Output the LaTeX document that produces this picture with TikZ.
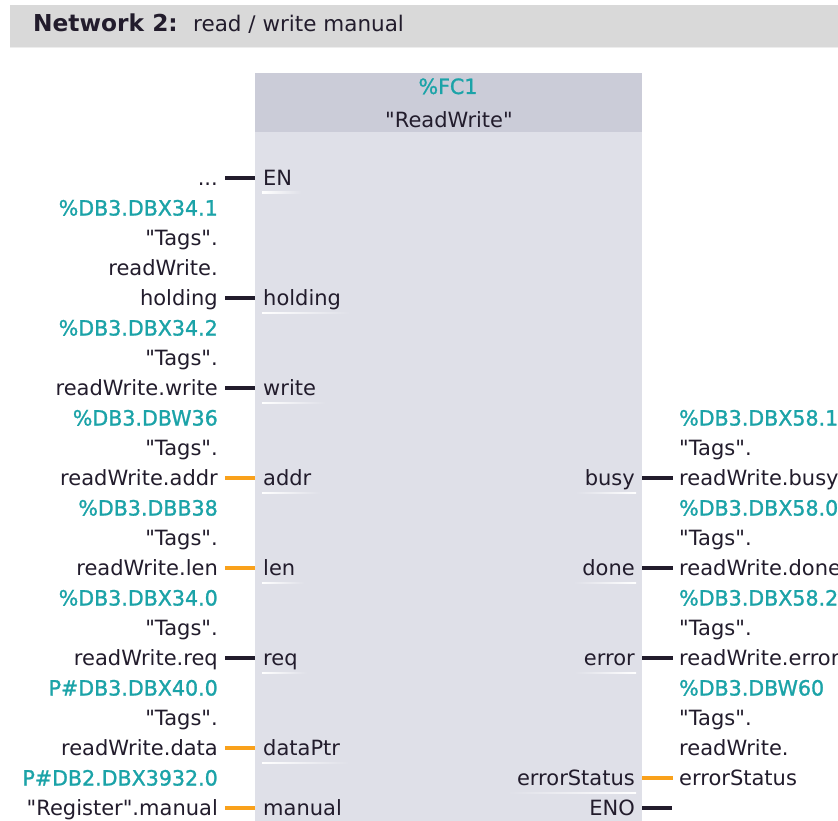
\documentclass[tikz,border=0pt]{standalone}
\usepackage{fontspec}
\setmainfont{DejaVu Sans}[Ligatures=TeXOff]
\newfontfamily\opndfont[FakeStretch=0.98, FakeBold=1.2]{DejaVu Sans}
\usepackage{xcolor}
\definecolor{barGray}{HTML}{D9D9D9}
\definecolor{fcHead}{HTML}{CBCCD8}
\definecolor{fcBody}{HTML}{DFE0E8}
\definecolor{ink}{HTML}{221C2C}
\definecolor{opndTeal}{HTML}{1BA3A8}
\definecolor{wireOrange}{HTML}{F9A11B}
\usepackage{tikz}
\usetikzlibrary{calc}
\newcommand{\lblfont}{\fontsize{21}{30}\selectfont}
\newcommand{\opnd}[1]{{\opndfont\color{opndTeal}#1}}
\newcommand{\tagsL}[1]{\begin{tabular}[b]{@{}r@{}}#1\end{tabular}}
\newcommand{\tagsR}[1]{\begin{tabular}[b]{@{}l@{}}#1\end{tabular}}
\newcommand{\ulineL}[1]{\shade[left color=white, right color=fcBody]
  ($(#1.base west)+(-1,6.5)$) rectangle ($(#1.base east)+(9,8.2)$);}
\newcommand{\ulineR}[1]{\shade[left color=fcBody, right color=white]
  ($(#1.base west)+(-9,6.5)$) rectangle ($(#1.base east)+(1,8.2)$);}
\tikzset{
  wire/.style={line width=3.2pt, draw=ink},
  wireO/.style={line width=3.2pt, draw=wireOrange},
  pinL/.style={anchor=base west, xshift=8pt, yshift=-7.5pt, inner sep=0pt, font=\lblfont, text=ink},
  pinR/.style={anchor=base east, xshift=-7pt, yshift=-7.5pt, inner sep=0pt, font=\lblfont, text=ink},
  tagL/.style={anchor=base east, xshift=-37pt, yshift=-7.5pt, inner sep=0pt, font=\lblfont, text=ink},
  tagR/.style={anchor=base west, xshift=37pt, yshift=-7.5pt, inner sep=0pt, font=\lblfont, text=ink},
}

\begin{document}
\begin{tikzpicture}[x=1pt, y=-1pt]
  \useasboundingbox[fill=white] (0,0) rectangle (838,821);
  % network title bar
  \fill[barGray] (10,5.5) rectangle (838,47);
  \draw[color=white!93!black, line width=1pt] (10,47.5) -- (838,47.5);
  \node[anchor=base west, inner sep=0pt, font=\fontsize{23.3}{26}\selectfont\bfseries, text=ink]
       (netNo) at (33,32) {Network 2:};
  \node[anchor=base west, inner sep=0pt, font=\fontsize{21.5}{24}\selectfont, text=ink]
       (netTitle) at (193,32) {read / write manual};
  % FC block
  \fill[fcBody] (255,132) rectangle (642,830);
  \fill[fcHead] (255,72.7) rectangle (642,132);
  \node[anchor=base, inner sep=0pt, font=\lblfont\opndfont, text=opndTeal] (fcNo) at (448,94) {\%FC1};
  \node[anchor=base, inner sep=0pt, font=\lblfont, text=ink] (fcName) at (449,128) {"ReadWrite"};

  % input pins
  \coordinate (pEN) at (255,178);
  \coordinate (pHolding) at (255,298);
  \coordinate (pWrite) at (255,388);
  \coordinate (pAddr) at (255,478);
  \coordinate (pLen) at (255,568);
  \coordinate (pReq) at (255,658);
  \coordinate (pData) at (255,748);
  \coordinate (pManual) at (255,808);

  \node[pinL] (nEN) at (pEN) {EN};
  \node[tagL] (tEN) at (pEN) {...};
  \draw[wire, shorten >=7pt] (pEN) -- (pEN -| tEN.east);
  \ulineL{nEN}

  \node[pinL] (nHolding) at (pHolding) {holding};
  \node[tagL] (tHolding) at (pHolding) {\tagsL{\opnd{\%DB3.DBX34.1}\\"Tags".\\readWrite.\\holding}};
  \draw[wire, shorten >=7pt] (pHolding) -- (pHolding -| tHolding.east);
  \ulineL{nHolding}

  \node[pinL] (nWrite) at (pWrite) {write};
  \node[tagL] (tWrite) at (pWrite) {\tagsL{\opnd{\%DB3.DBX34.2}\\"Tags".\\readWrite.write}};
  \draw[wire, shorten >=7pt] (pWrite) -- (pWrite -| tWrite.east);
  \ulineL{nWrite}

  \node[pinL] (nAddr) at (pAddr) {addr};
  \node[tagL] (tAddr) at (pAddr) {\tagsL{\opnd{\%DB3.DBW36}\\"Tags".\\readWrite.addr}};
  \draw[wireO, shorten >=7pt] (pAddr) -- (pAddr -| tAddr.east);
  \ulineL{nAddr}

  \node[pinL] (nLen) at (pLen) {len};
  \node[tagL] (tLen) at (pLen) {\tagsL{\opnd{\%DB3.DBB38}\\"Tags".\\readWrite.len}};
  \draw[wireO, shorten >=7pt] (pLen) -- (pLen -| tLen.east);
  \ulineL{nLen}

  \node[pinL] (nReq) at (pReq) {req};
  \node[tagL] (tReq) at (pReq) {\tagsL{\opnd{\%DB3.DBX34.0}\\"Tags".\\readWrite.req}};
  \draw[wire, shorten >=7pt] (pReq) -- (pReq -| tReq.east);
  \ulineL{nReq}

  \node[pinL] (nData) at (pData) {dataPtr};
  \node[tagL] (tData) at (pData) {\tagsL{\opnd{P\#DB3.DBX40.0}\\"Tags".\\readWrite.data}};
  \draw[wireO, shorten >=7pt] (pData) -- (pData -| tData.east);
  \ulineL{nData}

  \node[pinL] (nManual) at (pManual) {manual};
  \node[tagL] (tManual) at (pManual) {\tagsL{\opnd{P\#DB2.DBX3932.0}\\"Register".manual}};
  \draw[wireO, shorten >=7pt] (pManual) -- (pManual -| tManual.east);

  % output pins
  \coordinate (pBusy) at (642,478);
  \coordinate (pDone) at (642,568);
  \coordinate (pError) at (642,658);
  \coordinate (pStatus) at (642,778);
  \coordinate (pENO) at (642,808);
  \coordinate (eENO) at (672,808);

  \node[pinR] (nBusy) at (pBusy) {busy};
  \node[tagR] (tBusy) at (pBusy) {\tagsR{\opnd{\%DB3.DBX58.1}\\"Tags".\\readWrite.busy}};
  \draw[wire, shorten >=6pt] (pBusy) -- (pBusy -| tBusy.west);
  \ulineR{nBusy}

  \node[pinR] (nDone) at (pDone) {done};
  \node[tagR] (tDone) at (pDone) {\tagsR{\opnd{\%DB3.DBX58.0}\\"Tags".\\readWrite.done}};
  \draw[wire, shorten >=6pt] (pDone) -- (pDone -| tDone.west);
  \ulineR{nDone}

  \node[pinR] (nError) at (pError) {error};
  \node[tagR] (tError) at (pError) {\tagsR{\opnd{\%DB3.DBX58.2}\\"Tags".\\readWrite.error}};
  \draw[wire, shorten >=6pt] (pError) -- (pError -| tError.west);
  \ulineR{nError}

  \node[pinR] (nStatus) at (pStatus) {errorStatus};
  \node[tagR] (tStatus) at (pStatus) {\tagsR{\opnd{\%DB3.DBW60}\\"Tags".\\readWrite.\\errorStatus}};
  \draw[wireO, shorten >=6pt] (pStatus) -- (pStatus -| tStatus.west);
  \ulineR{nStatus}

  \node[pinR] (nENO) at (pENO) {ENO};
  \draw[wire] (pENO) -- (eENO);
\end{tikzpicture}
\end{document}
